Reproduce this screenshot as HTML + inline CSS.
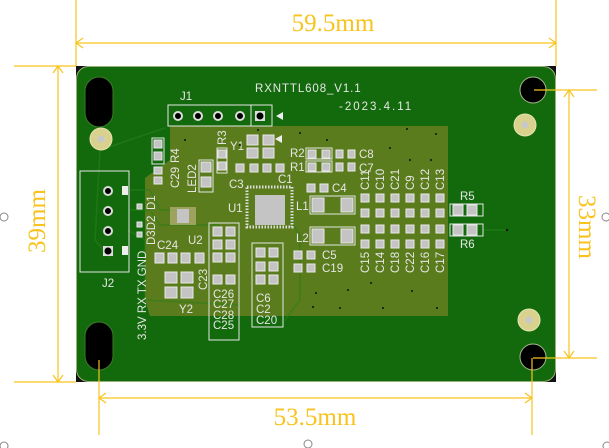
<!DOCTYPE html>
<html><head><meta charset="utf-8"><style>
html,body{margin:0;padding:0;background:#fff;width:609px;height:448px;overflow:hidden}
svg{display:block}
.dim{font-family:"Liberation Serif",serif;fill:#f7c31c;font-size:25px}
.s{font-family:"Liberation Sans",sans-serif;fill:#e6e6e6;font-size:11.5px}
.p{fill:#c4c4c4;stroke:#e8e8e8;stroke-width:1}
</style></head><body>
<svg width="609" height="448" viewBox="0 0 609 448" xmlns="http://www.w3.org/2000/svg">
<rect x="76" y="66" width="480" height="316" fill="#111"/>
<rect x="76.5" y="66.5" width="479" height="315" rx="12" fill="#136a0c" stroke="#9ab07a" stroke-width="1"/>
<polygon points="170,126 448,126 448,316 150,316 145,300 145,178 170,160" fill="#5b7c1c"/>
<g fill="none" stroke="#2a7f1a" stroke-width="1.5" opacity="0.6">
<path d="M165,128 L100,150 L95,240 L110,258"/>
<path d="M130,190 L150,190 L160,210 L185,210"/>
<path d="M130,210 L150,210 L160,225 L220,225"/>
<path d="M128,230 L145,240 L145,300 L240,305"/>
<path d="M290,220 L300,235 L300,300 L285,320"/>
<path d="M483,230 L507,230"/>
</g>
<rect x="85" y="77" width="28" height="50" rx="14" fill="#000" stroke="#3a7a2a"/>
<rect x="85" y="322" width="28" height="48" rx="14" fill="#000" stroke="#3a7a2a"/>
<circle cx="533" cy="90" r="13" fill="#000" stroke="#a8b890"/>
<circle cx="533" cy="357" r="13" fill="#000" stroke="#a8b890"/>
<g fill="#d8d28e" stroke="#e8e4b0"><circle cx="101" cy="139" r="11"/><circle cx="525" cy="125" r="11"/><circle cx="529" cy="320" r="11"/></g>
<g fill="#c8c8c8"><circle cx="101" cy="139" r="3.5"/><circle cx="525" cy="125" r="3.5"/><circle cx="529" cy="320" r="3.5"/></g>
<text class="s" x="255" y="92" font-size="14" letter-spacing="0.9">RXNTTL608_V1.1</text>
<text class="s" x="339" y="110" font-size="14" letter-spacing="2">-2023.4.11</text>
<text class="s" x="180" y="100">J1</text>
<rect x="168" y="105" width="104" height="21" fill="none" stroke="#e6e6e6"/>
<rect x="251" y="105" width="21" height="21" fill="none" stroke="#e6e6e6"/>
<g fill="#000" stroke="#ddd" stroke-width="2"><circle cx="178" cy="116" r="4"/><circle cx="198" cy="116" r="4"/><circle cx="218" cy="116" r="4"/><circle cx="240" cy="116" r="4"/></g>
<rect x="255" y="111" width="10" height="10" fill="#ddd"/><circle cx="260" cy="116" r="3.5" fill="#000"/>
<polygon points="276,116 283,112 283,120" fill="#eee"/>
<rect x="80" y="171" width="49" height="101" fill="none" stroke="#e6e6e6"/>
<g fill="#000" stroke="#ddd" stroke-width="2"><circle cx="108" cy="191" r="4"/><circle cx="108" cy="211" r="4"/><circle cx="108" cy="231" r="4"/></g>
<rect x="103" y="246" width="10" height="10" fill="#ddd"/><circle cx="108" cy="251" r="3.5" fill="#000"/>
<rect x="122" y="186" width="6" height="9" fill="#eee"/><rect x="122" y="246" width="6" height="9" fill="#eee"/>
<text class="s" x="102" y="287">J2</text>
<text class="s" transform="translate(146,340) rotate(-90)">3.3V RX TX GND</text>
<text class="s" transform="translate(155,210) rotate(-90)" font-size="10">D1</text>
<text class="s" transform="translate(155,245) rotate(-90)" font-size="10">D3D2</text>
<g class="p"><rect x="137" y="204" width="5" height="5"/><rect x="137" y="222" width="5" height="5"/><rect x="137" y="232" width="5" height="5"/></g>
<rect x="152" y="138" width="12" height="26" fill="none" stroke="#e6e6e6"/>
<g class="p"><rect x="154" y="140" width="8" height="8"/><rect x="154" y="152" width="8" height="8"/><rect x="154" y="167" width="8" height="7"/><rect x="154" y="177" width="8" height="7"/></g>
<text class="s" transform="translate(179,163) rotate(-90)">R4</text>
<text class="s" transform="translate(179,188) rotate(-90)">C29</text>
<rect x="199" y="160" width="14" height="32" fill="none" stroke="#e6e6e6"/>
<g class="p"><rect x="201" y="162" width="10" height="10"/><rect x="201" y="177" width="10" height="10"/></g>
<text class="s" transform="translate(196,193) rotate(-90)">LED2</text>
<rect x="217" y="148" width="10" height="25" fill="none" stroke="#e6e6e6"/>
<g class="p"><rect x="218" y="150" width="8" height="8"/><rect x="218" y="162" width="8" height="8"/></g>
<text class="s" transform="translate(226,145) rotate(-90)">R3</text>
<text class="s" x="230" y="150">Y1</text>
<g class="p"><rect x="247" y="135" width="11" height="10"/><rect x="263" y="135" width="11" height="10"/><rect x="247" y="148" width="11" height="10"/><rect x="263" y="148" width="11" height="10"/></g>
<polygon points="275,139 282,135 282,143" fill="#eee"/>
<g class="p"><rect x="236" y="164" width="8" height="8"/><rect x="250" y="164" width="8" height="8"/><rect x="263" y="164" width="8" height="8"/><rect x="276" y="164" width="8" height="8"/></g>
<text class="s" x="229" y="188">C3</text><text class="s" x="278" y="183">C1</text>
<rect x="247" y="187" width="45" height="40" fill="none" stroke="#ddd" stroke-dasharray="1.5,1.5" stroke-width="3"/>
<rect x="255" y="195" width="30" height="30" fill="#c4c4c4"/>
<text class="s" x="228" y="212" font-size="13">U1</text>
<rect x="170" y="207" width="26" height="18" fill="#b9b47a" opacity="0.7"/>
<rect x="177" y="209" width="12" height="14" fill="#c4c4c4"/>
<text class="s" x="188" y="244" font-size="9">U2</text>
<g class="p"><rect x="155" y="253" width="9" height="10"/><rect x="168" y="253" width="9" height="10"/><rect x="181" y="253" width="9" height="10"/><rect x="195" y="253" width="9" height="10"/></g>
<text class="s" x="157" y="249">C24</text>
<g class="p"><rect x="165" y="272" width="12" height="11"/><rect x="181" y="272" width="12" height="11"/><rect x="165" y="287" width="12" height="11"/><rect x="181" y="287" width="12" height="11"/></g>
<text class="s" x="179" y="313" font-size="12">Y2</text>
<text class="s" transform="translate(207,290) rotate(-90)">C23</text>
<rect x="209" y="223" width="30" height="117" fill="none" stroke="#e6e6e6"/>
<g class="p"><rect x="213" y="227" width="9" height="9"/><rect x="226" y="227" width="9" height="9"/><rect x="213" y="240" width="9" height="9"/><rect x="226" y="240" width="9" height="9"/><rect x="213" y="253" width="9" height="9"/><rect x="226" y="253" width="9" height="9"/><rect x="213" y="275" width="9" height="9"/><rect x="226" y="275" width="9" height="9"/></g>
<text class="s" x="213" y="298">C26</text><text class="s" x="213" y="308">C27</text><text class="s" x="213" y="319">C28</text><text class="s" x="213" y="329">C25</text>
<rect x="252" y="243" width="31" height="84" fill="none" stroke="#e6e6e6"/>
<g class="p"><rect x="256" y="248" width="9" height="9"/><rect x="269" y="248" width="9" height="9"/><rect x="256" y="262" width="9" height="9"/><rect x="269" y="262" width="9" height="9"/><rect x="256" y="275" width="9" height="9"/><rect x="269" y="275" width="9" height="9"/></g>
<text class="s" x="256" y="302">C6</text><text class="s" x="256" y="313">C2</text><text class="s" x="256" y="324">C20</text>
<g class="p"><rect x="294" y="251" width="8" height="8"/><rect x="307" y="251" width="8" height="8"/><rect x="294" y="264" width="8" height="8"/><rect x="307" y="264" width="8" height="8"/></g>
<text class="s" x="322" y="259">C5</text><text class="s" x="322" y="272">C19</text>
<text class="s" x="290" y="157">R2</text><text class="s" x="290" y="171">R1</text>
<rect x="306" y="148" width="26" height="11" fill="none" stroke="#e6e6e6"/>
<rect x="306" y="161" width="26" height="11" fill="none" stroke="#e6e6e6"/>
<g class="p"><rect x="308" y="150" width="8" height="8"/><rect x="322" y="150" width="8" height="8"/><rect x="308" y="163" width="8" height="8"/><rect x="322" y="163" width="8" height="8"/>
<rect x="336" y="150" width="7" height="8"/><rect x="348" y="150" width="7" height="8"/><rect x="336" y="163" width="7" height="8"/><rect x="348" y="163" width="7" height="8"/>
<rect x="307" y="184" width="8" height="8"/><rect x="320" y="184" width="8" height="8"/></g>
<text class="s" x="359" y="158">C8</text><text class="s" x="359" y="172">C7</text><text class="s" x="332" y="192">C4</text>
<text class="s" x="296" y="210" font-size="12">L1</text><text class="s" x="296" y="242" font-size="12">L2</text>
<rect x="310" y="196" width="45" height="18" fill="none" stroke="#e6e6e6"/>
<rect x="310" y="227" width="45" height="18" fill="none" stroke="#e6e6e6"/>
<g class="p"><rect x="312" y="198" width="12" height="14"/><rect x="341" y="198" width="12" height="14"/><rect x="312" y="229" width="12" height="14"/><rect x="341" y="229" width="12" height="14"/></g>
<g class="p">
<rect x="361" y="194" width="8" height="8"/><rect x="376" y="194" width="8" height="8"/><rect x="391" y="194" width="8" height="8"/><rect x="406" y="194" width="8" height="8"/><rect x="421" y="194" width="8" height="8"/><rect x="436" y="194" width="8" height="8"/>
<rect x="361" y="209" width="8" height="8"/><rect x="376" y="209" width="8" height="8"/><rect x="391" y="209" width="8" height="8"/><rect x="406" y="209" width="8" height="8"/><rect x="421" y="209" width="8" height="8"/><rect x="436" y="209" width="8" height="8"/>
<rect x="361" y="225" width="8" height="8"/><rect x="376" y="225" width="8" height="8"/><rect x="391" y="225" width="8" height="8"/><rect x="406" y="225" width="8" height="8"/><rect x="421" y="225" width="8" height="8"/><rect x="436" y="225" width="8" height="8"/>
<rect x="361" y="240" width="8" height="8"/><rect x="376" y="240" width="8" height="8"/><rect x="391" y="240" width="8" height="8"/><rect x="406" y="240" width="8" height="8"/><rect x="421" y="240" width="8" height="8"/><rect x="436" y="240" width="8" height="8"/>
</g>
<g class="s" font-size="10.5">
<text transform="translate(369,190) rotate(-90)">C11</text><text transform="translate(384,190) rotate(-90)">C10</text><text transform="translate(399,190) rotate(-90)">C21</text><text transform="translate(414,190) rotate(-90)">C9</text><text transform="translate(429,190) rotate(-90)">C12</text><text transform="translate(444,190) rotate(-90)">C13</text>
<text transform="translate(369,273) rotate(-90)">C15</text><text transform="translate(384,273) rotate(-90)">C14</text><text transform="translate(399,273) rotate(-90)">C18</text><text transform="translate(414,273) rotate(-90)">C22</text><text transform="translate(429,273) rotate(-90)">C16</text><text transform="translate(444,273) rotate(-90)">C17</text>
</g>
<text class="s" x="460" y="200">R5</text><text class="s" x="460" y="248">R6</text>
<rect x="450" y="204" width="33" height="12" fill="none" stroke="#e6e6e6"/>
<rect x="450" y="224" width="33" height="12" fill="none" stroke="#e6e6e6"/>
<g class="p"><rect x="453" y="205" width="10" height="10"/><rect x="467" y="205" width="10" height="10"/><rect x="453" y="225" width="10" height="10"/><rect x="467" y="225" width="10" height="10"/></g>
<g fill="#111"><circle cx="407" cy="129" r="1"/><circle cx="436" cy="134" r="1"/><circle cx="327" cy="140" r="1"/><circle cx="390" cy="148" r="1"/><circle cx="410" cy="160" r="1"/><circle cx="431" cy="160" r="1"/><circle cx="316" cy="293" r="1"/><circle cx="348" cy="290" r="1"/><circle cx="371" cy="283" r="1"/><circle cx="412" cy="291" r="1"/><circle cx="313" cy="307" r="1"/><circle cx="340" cy="308" r="1"/><circle cx="383" cy="308" r="1"/><circle cx="437" cy="308" r="1"/><circle cx="258" cy="130" r="1"/><circle cx="300" cy="133" r="1"/><circle cx="185" cy="140" r="1"/><circle cx="240" cy="145" r="1"/><circle cx="507" cy="230" r="1.2"/></g>
<g stroke="#f7c31c" stroke-width="1.2" fill="none">
<line x1="76" y1="0" x2="76" y2="66"/><line x1="556" y1="0" x2="556" y2="66"/>
<line x1="76" y1="43" x2="556" y2="43"/><polyline points="83,38 76,43 83,48"/><polyline points="549,38 556,43 549,48"/>
<line x1="14" y1="66" x2="76" y2="66"/><line x1="14" y1="382" x2="76" y2="382"/>
<line x1="58" y1="66" x2="58" y2="382"/><polyline points="53,73 58,66 63,73"/><polyline points="53,375 58,382 63,375"/>
<line x1="534" y1="90" x2="597" y2="90"/><line x1="533" y1="358" x2="597" y2="358"/>
<line x1="569" y1="90" x2="569" y2="358"/><polyline points="564,97 569,90 574,97"/><polyline points="564,351 569,358 574,351"/>
<line x1="99" y1="360" x2="99" y2="435"/><line x1="532" y1="358" x2="532" y2="435"/>
<line x1="99" y1="398" x2="532" y2="398"/><polyline points="106,393 99,398 106,403"/><polyline points="525,393 532,398 525,403"/>
</g>
<text class="dim" x="333" y="31" text-anchor="middle">59.5mm</text>
<text class="dim" x="315" y="425" text-anchor="middle">53.5mm</text>
<text class="dim" transform="translate(45,221) rotate(-90)" text-anchor="middle">39mm</text>
<text class="dim" transform="translate(579,227) rotate(90)" text-anchor="middle">33mm</text>
<g fill="none" stroke="#888"><circle cx="4" cy="217" r="4"/><circle cx="606" cy="217" r="4"/><circle cx="308" cy="444" r="4"/><circle cx="4" cy="446" r="4"/><circle cx="607" cy="446" r="4"/></g>
</svg>
</body></html>
